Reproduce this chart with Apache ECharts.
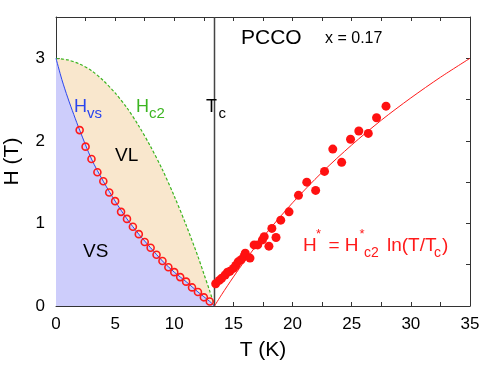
<!DOCTYPE html>
<html>
<head>
<meta charset="utf-8">
<script src="https://cdn.jsdelivr.net/npm/echarts@6/dist/echarts.min.js"></script>
<style>
  html, body { margin: 0; padding: 0; background: #fff; }
  #chart { width: 485px; height: 374px; }
</style>
</head>
<body>
<div id="chart"></div>
<script>
// Hc2 line (green dashed), upper edge of the VL region
const hc2T = [0, 1, 2, 3, 4, 5, 6, 7, 8, 9, 10, 11, 12, 12.5, 13, 13.4]
const hc2H = [3.0, 2.98, 2.93, 2.85, 2.73, 2.58, 2.40, 2.18, 1.93, 1.65, 1.33, 0.98, 0.60, 0.39, 0.18, 0]

// Hvs line (blue), upper edge of the VS region
const hvsT = [0, 0.5, 1, 1.5, 2, 3, 4, 5, 6, 7, 8, 9, 10, 11, 12, 13, 13.4]
const hvsH = [3.0, 2.74, 2.52, 2.32, 2.13, 1.78, 1.51, 1.27, 1.055, 0.87, 0.705, 0.545, 0.41, 0.295, 0.17, 0.055, 0]

// open circles
const circleT = [2, 2.5, 3, 3.5, 4, 4.5, 5, 5.5, 6, 6.5, 7, 7.5, 8, 8.5, 9, 9.5, 10, 10.5, 11, 11.5, 12, 12.5, 13]
const circleH = [2.13, 1.93, 1.78, 1.62, 1.51, 1.375, 1.27, 1.14, 1.055, 0.96, 0.87, 0.775, 0.705, 0.62, 0.545, 0.47, 0.41, 0.35, 0.295, 0.225, 0.17, 0.105, 0.055]

// filled dots (H*)
const dotT = [13.5, 13.8, 14.0, 14.3, 14.5, 14.7, 15.0, 15.2, 15.4, 15.65, 15.9, 16.0, 16.4, 16.75, 17.05, 17.45, 17.6, 18.0, 18.25, 18.6, 19.0, 19.7, 20.5, 21.2, 21.95, 22.7, 23.4, 24.15, 24.9, 25.6, 26.4, 27.1, 27.9]
const dotH = [0.27, 0.31, 0.335, 0.375, 0.41, 0.42, 0.455, 0.49, 0.535, 0.56, 0.6, 0.64, 0.58, 0.74, 0.74, 0.8, 0.84, 0.725, 0.94, 0.83, 1.04, 1.14, 1.34, 1.5, 1.4, 1.63, 1.9, 1.74, 2.02, 2.12, 2.09, 2.28, 2.42]

// fit H* = Hc2* ln(T/Tc) (red)
const fitT = [13.4, 14, 15, 16, 17.5, 20, 22.5, 25, 27.5, 30, 32.5, 35]
const fitH = [0, 0.137, 0.352, 0.554, 0.834, 1.25, 1.62, 1.95, 2.25, 2.52, 2.77, 3.0]

const tc = 13.4
const xTicks = [0, 5, 10, 15, 20, 25, 30, 35]
const yTicks = [0, 1, 2, 3]

const zip = (xs, ys) => xs.map((x, i) => [x, ys[i]])

const font = '"Liberation Sans", Arial, Helvetica, sans-serif'

// 文字标注
const txt = (text, x, y, size, color) => ({
  type: 'text',
  x: x,
  y: y,
  z: 100,
  style: {
    text: text,
    fill: color,
    font: size + 'px ' + font,
    align: 'left',
    verticalAlign: 'middle'
  }
})

const chart = echarts.init(document.getElementById('chart'))

const axisCommon = {
  axisLine: { show: true, onZero: false, lineStyle: { color: '#333', width: 1 } },
  axisTick: { show: true, inside: true, length: 4, lineStyle: { color: '#333' } },
  splitLine: { show: false }
}

const option = {
  animation: false,
  grid: { left: 56, right: 15, top: 17, bottom: 68, outerBoundsMode: 'none', containLabel: false },
  xAxis: [
    {
      ...axisCommon,
      type: 'value',
      min: 0,
      max: 35,
      interval: 2.5,
      name: 'T (K)',
      nameLocation: 'middle',
      nameGap: 34,
      nameTextStyle: { fontSize: 21, color: '#000', fontFamily: font },
      axisLabel: {
        fontSize: 17,
        color: '#000',
        fontFamily: font,
        margin: 10,
        formatter: v => (xTicks.includes(v) ? String(v) : '')
      }
    },
    {
      ...axisCommon,
      type: 'value',
      position: 'top',
      min: 0,
      max: 35,
      interval: 2.5,
      axisLabel: { show: false }
    }
  ],
  yAxis: [
    {
      ...axisCommon,
      type: 'value',
      min: 0,
      max: 3.5,
      interval: 0.5,
      name: 'H (T)',
      nameLocation: 'middle',
      nameGap: 33,
      nameTextStyle: { fontSize: 21, color: '#000', fontFamily: font },
      axisLabel: {
        fontSize: 17,
        color: '#000',
        fontFamily: font,
        margin: 11,
        formatter: v => (yTicks.includes(v) ? String(v) : '')
      }
    },
    {
      ...axisCommon,
      type: 'value',
      position: 'right',
      min: 0,
      max: 3.5,
      interval: 0.5,
      axisLabel: { show: false }
    }
  ],
  series: [
    {
      name: 'Hc2',
      type: 'line',
      smooth: 0.3,
      showSymbol: false,
      data: zip(hc2T, hc2H),
      lineStyle: { color: '#3cb521', width: 1.2, type: [3, 2] },
      areaStyle: { color: '#f9e7cd', opacity: 1 },
      z: 1
    },
    {
      name: 'Hvs',
      type: 'line',
      smooth: 0.3,
      showSymbol: false,
      data: zip(hvsT, hvsH),
      lineStyle: { color: '#2a45ee', width: 1 },
      areaStyle: { color: '#cdcdfb', opacity: 1 },
      z: 2
    },
    {
      name: 'Tc',
      type: 'line',
      showSymbol: false,
      data: [[tc, 0], [tc, 3.5]],
      lineStyle: { color: '#444', width: 1.5 },
      z: 3
    },
    {
      name: 'fit',
      type: 'line',
      smooth: 0.3,
      showSymbol: false,
      data: zip(fitT, fitH),
      lineStyle: { color: '#ff1a1a', width: 1 },
      z: 4
    },
    {
      name: 'circles',
      type: 'scatter',
      symbol: 'circle',
      symbolSize: 7,
      data: zip(circleT, circleH),
      itemStyle: { color: 'rgba(0,0,0,0)', borderColor: '#ff1a1a', borderWidth: 1.6, opacity: 1 },
      z: 5
    },
    {
      name: 'dots',
      type: 'scatter',
      symbol: 'circle',
      symbolSize: 9,
      data: zip(dotT, dotH),
      itemStyle: { color: '#ff1111', opacity: 1 },
      z: 5
    }
  ],
  graphic: [
    txt('PCCO', 241, 38.5, 21, '#000'),
    txt('x = 0.17', 325, 38.5, 16, '#000'),
    // H_vs
    txt('H', 74, 107, 18, '#2a45ee'),
    txt('vs', 87, 114, 15, '#2a45ee'),
    // H_c2
    txt('H', 136, 107, 18, '#3cb521'),
    txt('c2', 149, 114, 15, '#3cb521'),
    // T_c
    txt('T', 206, 107, 18, '#000'),
    txt('c', 218.5, 114, 15, '#000'),
    txt('VL', 115, 156, 19, '#000'),
    txt('VS', 83, 252, 19, '#000'),
    // H* = H*c2 ln(T/Tc)
    txt('H', 303, 245.5, 19, '#ff1a1a'),
    txt('*', 316, 234, 13, '#ff1a1a'),
    txt('= H', 328.5, 245.5, 19, '#ff1a1a'),
    txt('*', 359.5, 234, 13, '#ff1a1a'),
    txt('c2', 364, 253.5, 14, '#ff1a1a'),
    txt('ln(T/T', 387, 245.5, 19, '#ff1a1a'),
    txt('c', 434, 253.5, 14, '#ff1a1a'),
    txt(')', 442, 245.5, 19, '#ff1a1a')
  ]
}

chart.setOption(option)
</script>
</body>
</html>
